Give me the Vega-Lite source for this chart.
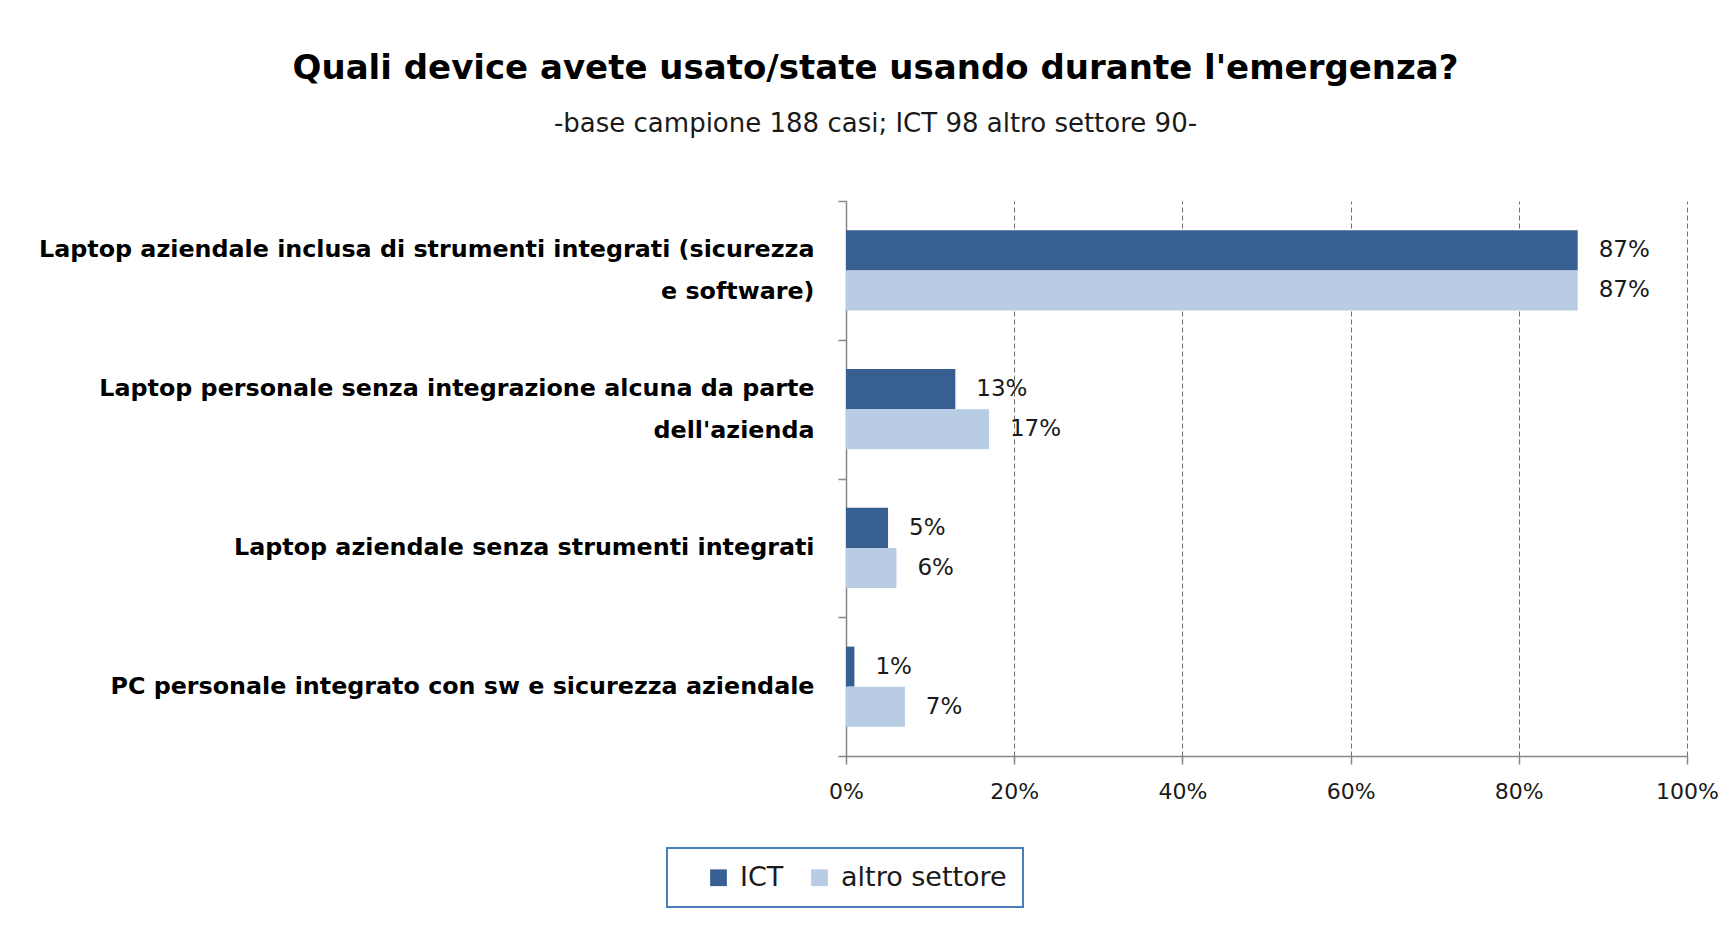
{
  "$schema": "https://vega.github.io/schema/vega-lite/v6.json",
  "autosize": {"type": "none"},
  "width": 841,
  "height": 555,
  "padding": {"left": 846, "top": 201, "right": 46, "bottom": 171},
  "background": "white",
  "title": {
    "text": "Quali device avete usato/state usando durante l'emergenza?",
    "subtitle": "-base campione 188 casi; ICT  98 altro settore 90-",
    "anchor": "middle",
    "frame": "group",
    "dx": -391,
    "offset": 52,
    "font": "DejaVu Sans",
    "fontSize": 34,
    "fontWeight": "bold",
    "color": "#000000",
    "subtitleFont": "DejaVu Sans",
    "subtitleFontSize": 26,
    "subtitleColor": "#1a1a1a",
    "subtitlePadding": 25
  },
  "data": {
    "values": [
      {"device": "Laptop aziendale inclusa di strumenti integrati (sicurezza e software)", "settore": "ICT", "valore": 0.87},
      {"device": "Laptop aziendale inclusa di strumenti integrati (sicurezza e software)", "settore": "altro settore", "valore": 0.87},
      {"device": "Laptop personale senza integrazione alcuna da parte dell'azienda", "settore": "ICT", "valore": 0.13},
      {"device": "Laptop personale senza integrazione alcuna da parte dell'azienda", "settore": "altro settore", "valore": 0.17},
      {"device": "Laptop aziendale senza strumenti integrati", "settore": "ICT", "valore": 0.05},
      {"device": "Laptop aziendale senza strumenti integrati", "settore": "altro settore", "valore": 0.06},
      {"device": "PC personale integrato con sw e sicurezza aziendale", "settore": "ICT", "valore": 0.01},
      {"device": "PC personale integrato con sw e sicurezza aziendale", "settore": "altro settore", "valore": 0.07}
    ]
  },
  "encoding": {
    "y": {
      "field": "device",
      "type": "nominal",
      "sort": null,
      "scale": {"paddingInner": 0, "paddingOuter": 0},
      "axis": {
        "title": null,
        "domainColor": "#868686",
        "domainWidth": 1.5,
        "tickColor": "#868686",
        "tickWidth": 1.5,
        "tickSize": 8,
        "tickBand": "extent",
        "labelPadding": 24,
        "labelFont": "DejaVu Sans",
        "labelFontSize": 23.8,
        "labelFontWeight": "bold",
        "labelColor": "#000000",
        "labelLineHeight": 21,
        "labelAlign": "right",
        "labelBaseline": "middle",
        "labelOffset": -21,
        "labelLimit": 900,
        "labelExpr": "datum.value == 'Laptop aziendale inclusa di strumenti integrati (sicurezza e software)' ? ['Laptop aziendale inclusa di strumenti integrati (sicurezza', '\u2800', 'e software)'] : datum.value == \"Laptop personale senza integrazione alcuna da parte dell'azienda\" ? ['Laptop personale senza integrazione alcuna da parte', '\u2800', \"dell'azienda\"] : ['\u00a0', datum.value]",
        "grid": false
      }
    },
    "yOffset": {
      "field": "settore",
      "type": "nominal",
      "sort": ["ICT", "altro settore"],
      "scale": {"paddingInner": 0, "paddingOuter": 0.734}
    },
    "x": {
      "field": "valore",
      "type": "quantitative",
      "scale": {"domain": [0, 1], "nice": false},
      "axis": {
        "title": null,
        "format": ".0%",
        "values": [0, 0.2, 0.4, 0.6, 0.8, 1],
        "labelFlush": false,
        "domainColor": "#868686",
        "domainWidth": 1.5,
        "tickColor": "#868686",
        "tickWidth": 1.5,
        "tickSize": 8,
        "labelPadding": 17,
        "labelFont": "DejaVu Sans",
        "labelFontSize": 22,
        "labelColor": "#1a1a1a",
        "grid": true,
        "gridColor": "#6f6f6f",
        "gridDash": [5, 3],
        "gridWidth": 1
      }
    }
  },
  "layer": [
    {
      "mark": {"type": "bar"},
      "encoding": {
        "color": {
          "field": "settore",
          "type": "nominal",
          "scale": {"domain": ["ICT", "altro settore"], "range": ["#375f91", "#b8cce4"]},
          "legend": {
            "title": null,
            "orient": "none",
            "legendX": -179,
            "legendY": 647,
            "direction": "horizontal",
            "strokeColor": "#4a7ebb",
            "fillColor": "white",
            "padding": 16,
            "symbolOffset": 22,
            "symbolType": "square",
            "symbolSize": 280,
            "symbolStrokeWidth": 0,
            "labelFont": "DejaVu Sans",
            "labelFontSize": 27,
            "labelLimit": 400,
            "labelColor": "#1a1a1a",
            "labelOffset": 8,
            "columnPadding": 0,
            "encode": {"legend": {"update": {"strokeWidth": {"value": 2}}}}
          }
        }
      }
    },
    {
      "mark": {"type": "text", "align": "left", "baseline": "middle", "dx": 21, "font": "DejaVu Sans", "fontSize": 23, "color": "#1a1a1a"},
      "encoding": {
        "text": {"field": "valore", "type": "quantitative", "format": ".0%"}
      }
    }
  ],
  "config": {
    "view": {"stroke": null}
  }
}
